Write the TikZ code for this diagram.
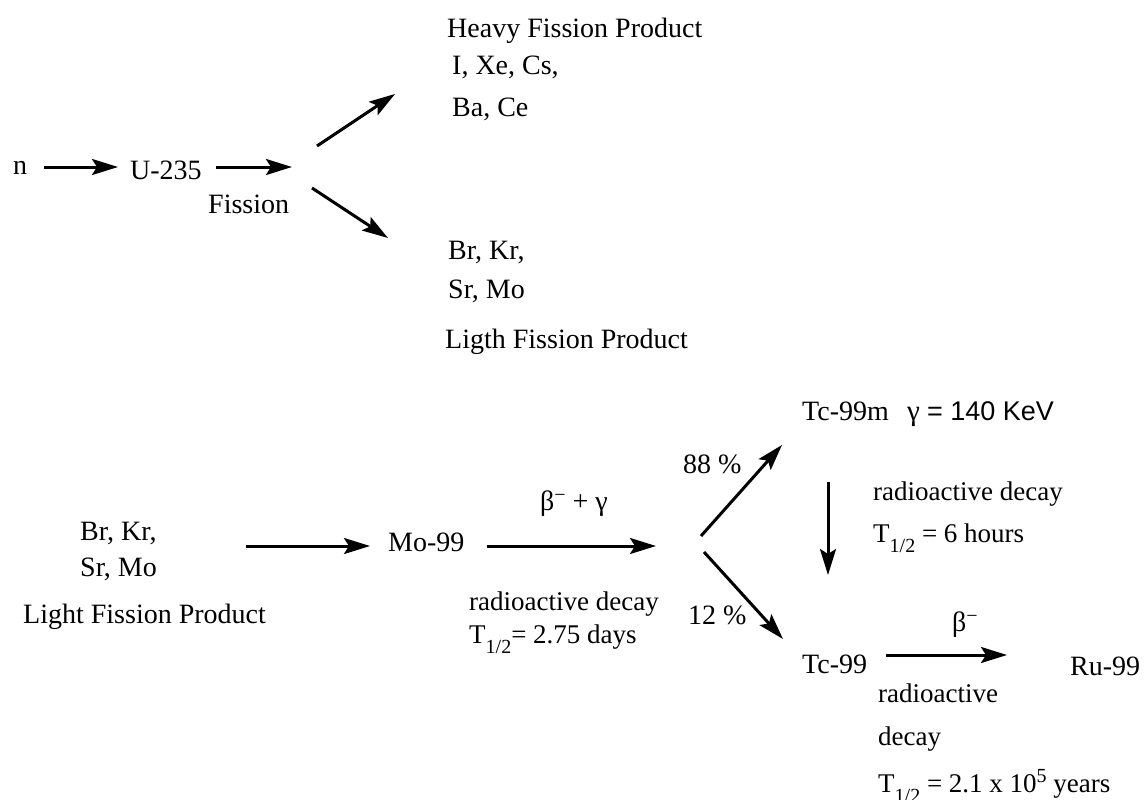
\documentclass[tikz,border=0pt]{standalone}
\usepackage{fontspec}
\setmainfont{Liberation Serif}
\newfontfamily\sansf{Liberation Sans}
\usetikzlibrary{arrows.meta}
\newcommand{\hsub}[1]{\raisebox{-10pt}{\fontsize{20}{20}\selectfont #1}}
\newcommand{\hsup}[1]{\raisebox{10pt}{\fontsize{20}{20}\selectfont #1}}
\newcommand{\bminus}{\raisebox{9pt}{\fontsize{20}{20}\selectfont −}}
\begin{document}
\begin{tikzpicture}[x=1pt,y=-1pt,
  lab/.style={inner sep=0pt, anchor=base west, font=\fontsize{28}{33}\selectfont},
  dlab/.style={lab, font=\fontsize{27}{32}\selectfont},
  arr/.style={line width=3pt, -{Stealth[length=26pt,width=16pt,inset=5pt]}}]
\useasboundingbox[fill=white] (0,0) rectangle (1144,800);

% ---- top: fission ----
\node[lab] (n) at (13,174) {n};
\node[lab] (u) at (130,179) {U-235};
\node[lab] (fis) at (208,213) {Fission};
\node[lab] (hfp) at (447,38) {Heavy Fission Product};
\node[lab] (hv1) at (452,75) {I, Xe, Cs,};
\node[lab] (hv2) at (452,117) {Ba, Ce};
\node[lab] (lt1) at (448,259) {Br, Kr,};
\node[lab] (lt2) at (448,298) {Sr, Mo};
\node[lab] (lfp) at (445,348) {Ligth Fission Product};

\coordinate (fk1) at (292,167);
\coordinate (hvtip) at (395,94);
\coordinate (lttip) at (388,238);
\draw[arr] ([shift={(17,-7)}]n.base east) -- ([shift={(-12,-12)}]u.base west);
\draw[arr] ([shift={(14.5,-12)}]u.base east) -- (fk1);
\draw[arr] ([shift={(25,-21)}]fk1) -- (hvtip);
\draw[arr] ([shift={(20,21)}]fk1) -- (lttip);

% ---- bottom: decay chain ----
\node[lab] (bl1) at (80,540) {Br, Kr,};
\node[lab] (bl2) at (80,576) {Sr, Mo};
\node[lab] (blf) at (23,623) {Light Fission Product};
\node[lab] (mo) at (388,551) {Mo-99};
\draw[arr] ([shift={(89.5,6)}]bl1.base east) -- ([shift={(-18,-5)}]mo.base west);

\coordinate (fk2) at (656,546);
\draw[arr] ([shift={(22,-5)}]mo.base east) -- (fk2);
\node[lab] (bg) at (540,510) {β\bminus{} + γ};
\node[dlab] (rd1) at (469,610) {radioactive decay};
\node[dlab] (th1) at (469,643) {T\hsub{1/2}= 2.75 days};
\node[lab] (p88) at (683,473) {88 \%};
\node[lab] (p12) at (688,624) {12 \%};

\node[lab] (tcm) at (802,420) {Tc-99m};
\node[lab] (gam) at (907,420) {{\fontsize{29}{30}\selectfont γ}\ {\sansf\fontsize{27}{32}\selectfont = 140 KeV}};
\node[lab] (tc) at (802,673) {Tc-99};
\node[lab] (ru) at (1070,675) {Ru-99};

\coordinate (t88) at (782,445);
\coordinate (t12) at (783,639);
\draw[arr] ([shift={(45,-10)}]fk2) -- (t88);
\draw[arr] ([shift={(48,6)}]fk2) -- (t12);
\draw[arr] ([shift={(26,62)}]tcm.base west) -- ([shift={(26,-98)}]tc.base west);

\node[dlab] (rd2) at (873,500) {radioactive decay};
\node[dlab] (th2) at (873,542) {T\hsub{1/2} = 6 hours};

\draw[arr] ([shift={(19,-18)}]tc.base east) -- ([shift={(-63,-20)}]ru.base west);
\node[lab] (bm) at (952,631) {β\bminus};
\node[dlab] (rd3) at (878,702) {radioactive};
\node[dlab] (dc3) at (878,745) {decay};
\node[dlab] (th3) at (878,792) {T\hsub{1/2} = 2.1 x 10\hsup{5} years};
\end{tikzpicture}
\end{document}
